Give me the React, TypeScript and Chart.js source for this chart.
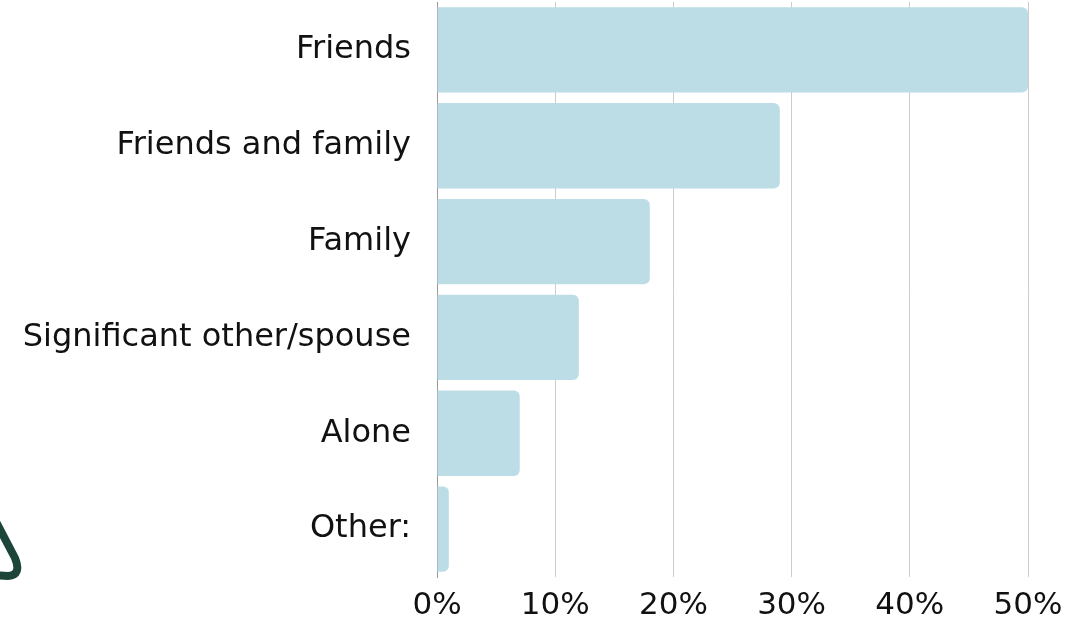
import React, { useEffect, useRef } from "react";
import { Chart, registerables } from "chart.js";

Chart.register(...registerables);

const categories = [
  "Friends",
  "Friends and family",
  "Family",
  "Significant other/spouse",
  "Alone",
  "Other:",
];
const shares = [50, 29, 18, 12, 7, 1];
const xTicks = [0, 10, 20, 30, 40, 50];

const FONT = "'DejaVu Sans', 'Open Sans', sans-serif";

const decoration = {
  id: "decoration",
  afterDraw(chart: any) {
    const ctx = chart.ctx;
    ctx.save();
    ctx.strokeStyle = "#1d4539";
    ctx.lineWidth = 8;
    ctx.lineCap = "round";
    ctx.lineJoin = "round";
    ctx.beginPath();
    ctx.moveTo(-6, 518);
    ctx.lineTo(15, 558);
    ctx.quadraticCurveTo(22, 575, 8, 576);
    ctx.lineTo(-8, 575);
    ctx.stroke();
    ctx.restore();
  },
};

export default function App() {
  const ref = useRef<HTMLCanvasElement | null>(null);
  useEffect(() => {
    document.body.style.margin = "0";
    const chart = new Chart(ref.current!, {
      type: "bar",
      data: {
        labels: categories,
        datasets: [
          {
            data: shares,
            backgroundColor: "#bcdde5",
            borderRadius: 6,
            borderSkipped: "start",
            categoryPercentage: 0.89,
            barPercentage: 1,
          },
        ],
      },
      options: {
        indexAxis: "y",
        animation: false,
        responsive: false,
        maintainAspectRatio: false,
        layout: { padding: { top: 2, right: 54, bottom: 0, left: 0 } },
        plugins: { legend: { display: false }, tooltip: { enabled: false } },
        scales: {
          x: {
            min: 0,
            max: 50,
            afterBuildTicks(scale: any) {
              scale.ticks = xTicks.map((v) => ({ value: v }));
            },
            afterFit(scale: any) {
              scale.height = 44;
              scale.paddingLeft = 0;
              scale.paddingRight = 0;
            },
            grid: { color: "#cccccc", drawTicks: false, lineWidth: 1 },
            border: { display: false },
            ticks: {
              padding: 10,
              color: "#111",
              font: { family: FONT, size: 31 },
              callback: (v: any) => v + "%",
            },
          },
          y: {
            grid: { display: false, drawTicks: false },
            border: { display: true, color: "#999999", width: 1 },
            afterFit(scale: any) {
              scale.width = 437;
              scale.paddingTop = 0;
              scale.paddingBottom = 0;
            },
            ticks: {
              padding: 26,
              color: "#111",
              font: { family: FONT, size: 32 },
            },
          },
        },
      },
      plugins: [decoration],
    });
    return () => chart.destroy();
  }, []);
  return (
    <div style={{ position: "absolute", left: 0, top: 0, width: 1082, height: 621 }}>
      <canvas ref={ref} width={1082} height={621} style={{ display: "block" }} />
    </div>
  );
}
